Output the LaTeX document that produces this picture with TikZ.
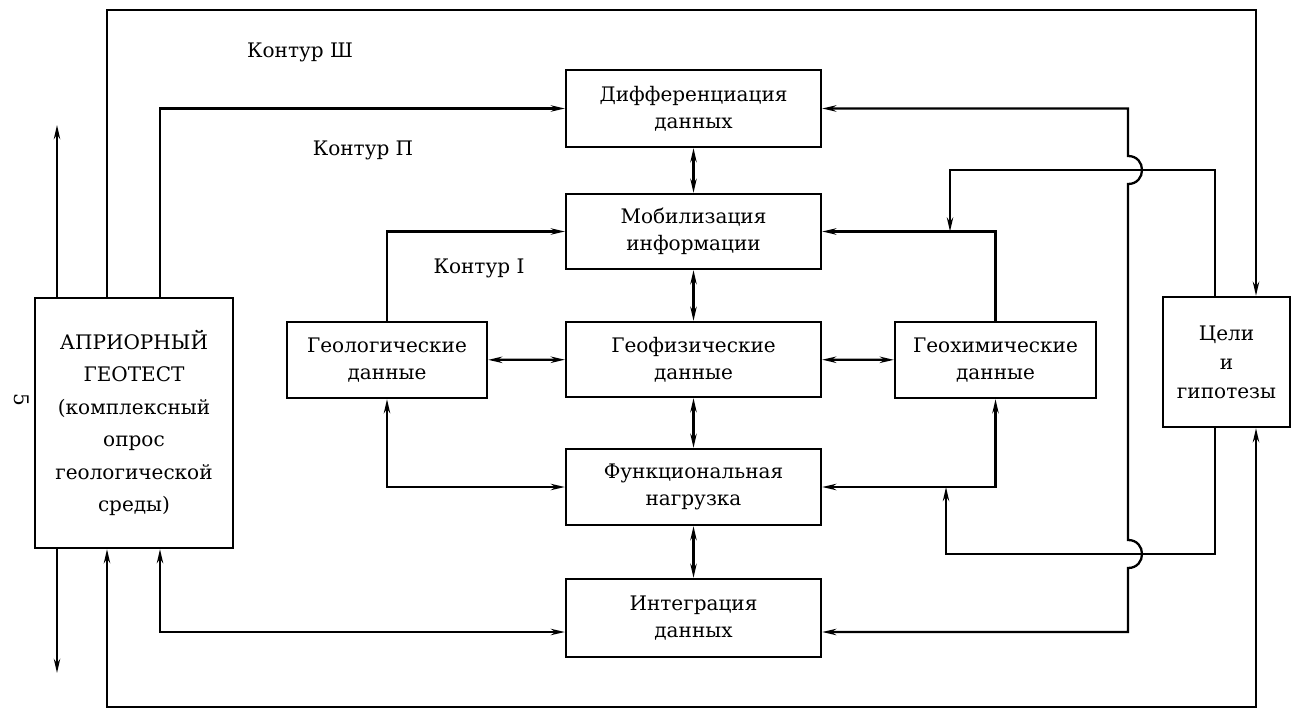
\documentclass[tikz,border=0pt]{standalone}
\usepackage{fontspec}
\setmainfont{DejaVu Serif}
\usetikzlibrary{arrows.meta}
\begin{document}
\begin{tikzpicture}[x=0.02cm,y=-0.02cm,line width=1.3pt,>={Stealth[length=8pt,width=3.6pt]},
  blk/.style={draw,align=center,inner sep=0pt,font=\fontsize{11.4}{15.3}\selectfont},
  lbl/.style={font=\fontsize{11.4}{15.3}\selectfont}]
\useasboundingbox (0,0) rectangle (1293,709);
% blocks
\node[blk,minimum width=5.1cm,minimum height=1.54cm] (dif) at (693.5,108.5) {Дифференциация\\данных};
\node[blk,minimum width=5.1cm,minimum height=1.5cm] (mob) at (693.5,231.5) {Мобилизация\\информации};
\node[blk,minimum width=5.1cm,minimum height=1.5cm] (gph) at (693.5,359.5) {Геофизические\\данные};
\node[blk,minimum width=5.1cm,minimum height=1.52cm] (fun) at (693.5,487) {Функциональная\\нагрузка};
\node[blk,minimum width=5.1cm,minimum height=1.56cm] (int) at (693.5,618) {Интеграция\\данных};
\node[blk,minimum width=4cm,minimum height=1.52cm] (glg) at (387,360) {Геологические\\данные};
\node[blk,minimum width=4.02cm,minimum height=1.52cm] (gch) at (995.5,360) {Геохимические\\данные};
\node[blk,minimum width=3.96cm,minimum height=5cm,font=\fontsize{11.4}{18.5}\selectfont] (apr) at (134,423)
  {АПРИОРНЫЙ\\ГЕОТЕСТ\\(комплексный\\опрос\\геологической\\среды)};
\node[blk,minimum width=2.54cm,minimum height=2.6cm,font=\fontsize{11.4}{16.5}\selectfont] (tsel) at (1226.5,362) {Цели\\и\\гипотезы};
\node[lbl] (k3) at (300,52) {Контур Ш};
\node[lbl] (k2) at (363,150) {Контур П};
\node[lbl] (k1) at (479,268) {Контур I};
\node[lbl,rotate=-90] (pg) at (22,400) {5};
\coordinate (t3) at (700,10); \coordinate (b3) at (700,707);
\coordinate (inA) at (57,125); \coordinate (outA) at (57,673);
\coordinate (j1) at (950,231.5); \coordinate (j2) at (946,487);
% centre column
\draw[<->] (dif) -- (mob); \draw[<->] (mob) -- (gph); \draw[<->] (gph) -- (fun); \draw[<->] (fun) -- (int);
\draw[<->] (glg) -- (gph); \draw[<->] (gph) -- (gch);
% contour I
\draw[->] (glg.north) |- (mob.west); \draw[<->] (glg.south) |- (fun.west);
\draw[->] (gch.north) |- (mob.east); \draw[<->] (fun.east) -| (gch.south);
% contour II
\draw[->] ([xshift=0.52cm]apr.north) |- (dif.west);
\draw[<->] ([xshift=0.52cm]apr.south) |- ([yshift=-0.28cm]int.west);
\draw[<->] (dif.east) -- (1128,108.5) -- (1128,156) .. controls (1146.7,156) and (1146.7,184) .. (1128,184)
  -- (1128,540) .. controls (1146.7,540) and (1146.7,568) .. (1128,568) -- (1128,632) -- ([yshift=-0.28cm]int.east);
\draw[->] ([xshift=-0.23cm]tsel.north) |- (950,170) -- (j1);
\draw[->] ([xshift=-0.23cm]tsel.south) |- (946,554) -- (j2);
% contour III
\draw[->] ([xshift=-0.54cm]apr.north) |- (t3) -| ([xshift=0.59cm]tsel.north);
\draw[<->] ([xshift=-0.54cm]apr.south) |- (b3) -| ([xshift=0.59cm]tsel.south);
\draw[->] (apr.north -| inA) -- (inA); \draw[->] (apr.south -| outA) -- (outA);
\end{tikzpicture}
\end{document}
